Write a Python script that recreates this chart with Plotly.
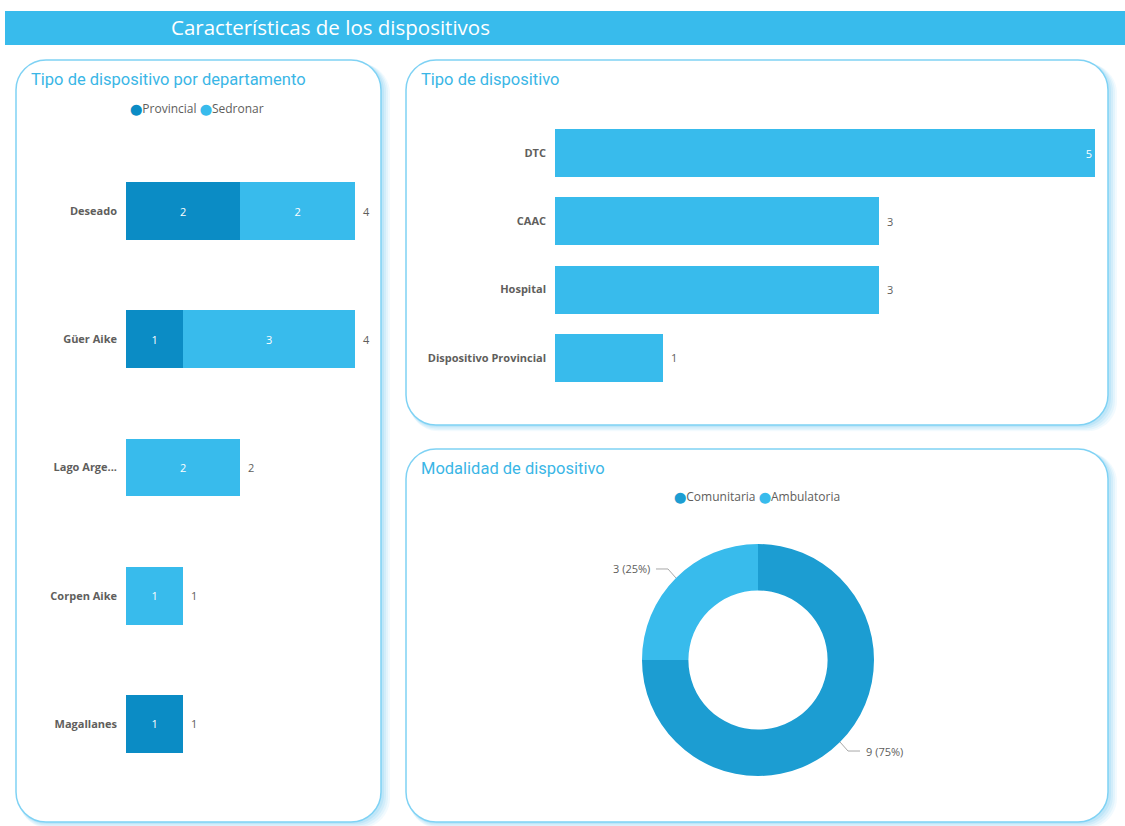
import plotly.graph_objects as go
import math

W, H = 1125, 826

# ---------------- data ----------------
departamentos = ["Deseado", "Güer Aike", "Lago Arge...", "Corpen Aike", "Magallanes"]
provincial = [2, 1, 0, 0, 1]
sedronar = [2, 3, 2, 1, 0]

tipos = ["DTC", "CAAC", "Hospital", "Dispositivo Provincial"]
tipos_vals = [5, 3, 3, 1]

modalidades = ["Comunitaria", "Ambulatoria"]
modalidades_vals = [9, 3]

# ---------------- style ----------------
C_DARK = "#0B8CC5"
C_LIGHT = "#38BBEC"
C_DONUT_DARK = "#1C9DD2"
C_TITLE = "#3AB6E6"
C_GRAY = "#605E5C"
BORDER = "#7FD2F4"
FONT = "Open Sans"


def px(x):
    return x / W


def py(y):
    return 1 - y / H


def rr_path(x0, y0, x1, y1, r):
    k = 0.5523 * r
    def P(x, y):
        return f"{px(x):.5f},{py(y):.5f}"
    pts = [f"M {P(x0 + r, y0)}",
           f"L {P(x1 - r, y0)}",
           f"C {P(x1 - r + k, y0)} {P(x1, y0 + r - k)} {P(x1, y0 + r)}",
           f"L {P(x1, y1 - r)}",
           f"C {P(x1, y1 - r + k)} {P(x1 - r + k, y1)} {P(x1 - r, y1)}",
           f"L {P(x0 + r, y1)}",
           f"C {P(x0 + r - k, y1)} {P(x0, y1 - r + k)} {P(x0, y1 - r)}",
           f"L {P(x0, y0 + r)}",
           f"C {P(x0, y0 + r - k)} {P(x0 + r - k, y0)} {P(x0 + r, y0)}",
           "Z"]
    return " ".join(pts)


fig = go.Figure()
annotations = []
shapes = []

# ---------- left: stacked horizontal bars ----------
for name, vals, col in [("Provincial", provincial, C_DARK), ("Sedronar", sedronar, C_LIGHT)]:
    fig.add_trace(go.Bar(
        y=departamentos, x=vals, name=name, orientation="h",
        marker=dict(color=col, line=dict(width=0)),
        text=[str(v) if v else "" for v in vals],
        textposition="inside", insidetextanchor="middle",
        insidetextfont=dict(color="white", size=11, family=FONT),
        textangle=0, width=0.45, xaxis="x", yaxis="y", showlegend=False))

totals = [a + b for a, b in zip(provincial, sedronar)]
for d, t in zip(departamentos, totals):
    annotations.append(dict(x=t, y=d, xref="x", yref="y", text=str(t),
                            showarrow=False, xanchor="left", xshift=6,
                            font=dict(color=C_GRAY, size=11, family=FONT)))

# ---------- top right: horizontal bars ----------
max_v = max(tipos_vals)
fig.add_trace(go.Bar(
    y=tipos, x=tipos_vals, orientation="h",
    marker=dict(color=C_LIGHT, line=dict(width=0)),
    text=[str(v) if v == max_v else "" for v in tipos_vals],
    textposition="inside", insidetextanchor="end", textangle=0,
    insidetextfont=dict(color="white", size=11, family=FONT),
    width=0.7, xaxis="x2", yaxis="y2", showlegend=False))
for t, v in zip(tipos, tipos_vals):
    if v != max_v:
        annotations.append(dict(x=v, y=t, xref="x2", yref="y2", text=str(v),
                                showarrow=False, xanchor="left", xshift=6,
                                font=dict(color=C_GRAY, size=11, family=FONT)))

# ---------- bottom right: donut ----------
cx, cy, R = 758, 660, 116
fig.add_trace(go.Pie(
    labels=modalidades, values=modalidades_vals, hole=0.6, sort=False,
    direction="clockwise", rotation=0,
    marker=dict(colors=[C_DONUT_DARK, C_LIGHT], line=dict(width=0)),
    textinfo="none",
    domain=dict(x=[px(cx - R), px(cx + R)], y=[py(cy + R), py(cy - R)]),
    showlegend=False))

# outside labels with leader lines, placed from slice mid-angles
total_m = sum(modalidades_vals)
cum = 0
for v in modalidades_vals:
    mid = (cum + v / 2) / total_m * 2 * math.pi
    cum += v
    sx, sy = math.sin(mid), -math.cos(mid)
    p0 = (cx + R * sx, cy + R * sy)
    p1 = (p0[0] + 8 * (1 if sx > 0 else -1), p0[1] + 9 * (1 if sy > 0 else -1))
    side = 1 if sx > 0 else -1
    p2 = (p1[0] + 12 * side, p1[1])
    path = f"M {px(p0[0])},{py(p0[1])} L {px(p1[0])},{py(p1[1])} L {px(p2[0])},{py(p2[1])}"
    shapes.append(dict(type="path", xref="paper", yref="paper", path=path,
                       line=dict(color="#A8A8A8", width=1), layer="above"))
    pct = round(v / total_m * 100)
    annotations.append(dict(x=px(p2[0] + 4 * side), y=py(p2[1]), xref="paper", yref="paper",
                            text=f"{v} ({pct}%)", showarrow=False,
                            xanchor="left" if side > 0 else "right", yanchor="middle",
                            font=dict(color=C_GRAY, size=11, family=FONT)))

# ---------- shapes: banner, panels ----------
shapes.append(dict(type="rect", xref="paper", yref="paper",
                   x0=px(5), x1=px(1125), y0=py(45), y1=py(11),
                   fillcolor="#38BBEC", line=dict(width=0), layer="below"))
panels = [(16, 60, 381, 822), (406, 60, 1108, 425), (406, 449, 1108, 822)]
for (x0, y0, x1, y1) in panels:
    for i, op in enumerate([0.12, 0.16, 0.22, 0.30]):
        off = 9 - 2 * i
        shapes.append(dict(type="path", xref="paper", yref="paper",
                           path=rr_path(x0 + off * 0.3, y0 + off * 0.4, x1 + off, y1 + off * 0.7, 30),
                           fillcolor=f"rgba(150,215,245,{op})", line=dict(width=0), layer="below"))
    shapes.append(dict(type="path", xref="paper", yref="paper",
                       path=rr_path(x0, y0, x1, y1, 30),
                       fillcolor="white", line=dict(color=BORDER, width=1.5), layer="below"))

# ---------- titles ----------
annotations.append(dict(x=px(169), y=py(27), xref="paper", yref="paper",
                        text="Características de los dispositivos", showarrow=False,
                        xanchor="left", yanchor="middle",
                        font=dict(color="white", size=20.5, family=FONT)))
for txt, x, y in [("Tipo de dispositivo por departamento", 29, 79),
                  ("Tipo de dispositivo", 419, 79),
                  ("Modalidad de dispositivo", 419, 468)]:
    annotations.append(dict(x=px(x), y=py(y), xref="paper", yref="paper", text=txt,
                            showarrow=False, xanchor="left", yanchor="middle",
                            font=dict(color=C_TITLE, size=16.5, family="Roboto")))

# ---------- legends (as text) ----------
def legend_text(names, colors):
    parts = [f"<span style=\"color:{c};font-family:'DejaVu Sans';font-size:11px\">⬤</span>{n}"
             for n, c in zip(names, colors)]
    return " ".join(parts)

annotations.append(dict(x=px(197), y=py(109), xref="paper", yref="paper",
                        text=legend_text(["Provincial", "Sedronar"], [C_DARK, C_LIGHT]),
                        showarrow=False, xanchor="center", yanchor="middle",
                        font=dict(color=C_GRAY, size=12, family=FONT)))
annotations.append(dict(x=px(757), y=py(497), xref="paper", yref="paper",
                        text=legend_text(modalidades, [C_DONUT_DARK, C_LIGHT]),
                        showarrow=False, xanchor="center", yanchor="middle",
                        font=dict(color=C_GRAY, size=12, family=FONT)))

tickfont = dict(color=C_GRAY, size=11, family=FONT, weight="bold")

fig.update_layout(
    width=W, height=H, margin=dict(l=0, r=0, t=0, b=0),
    paper_bgcolor="white", plot_bgcolor="rgba(0,0,0,0)",
    barmode="stack",
    xaxis=dict(domain=[px(126), px(372)], range=[0, 4.3], visible=False),
    yaxis=dict(domain=[py(788), py(147)], autorange="reversed", showgrid=False,
               zeroline=False, showline=False, ticks="", ticklabelstandoff=8,
               tickfont=tickfont, anchor="x"),
    xaxis2=dict(domain=[px(555), px(1095)], range=[0, 5], visible=False, anchor="y2"),
    yaxis2=dict(domain=[py(392), py(119)], autorange="reversed", showgrid=False,
                zeroline=False, showline=False, ticks="", ticklabelstandoff=8,
                tickfont=tickfont, anchor="x2"),
    shapes=shapes, annotations=annotations,
    font=dict(family=FONT),
)

fig.write_html("out.html")
